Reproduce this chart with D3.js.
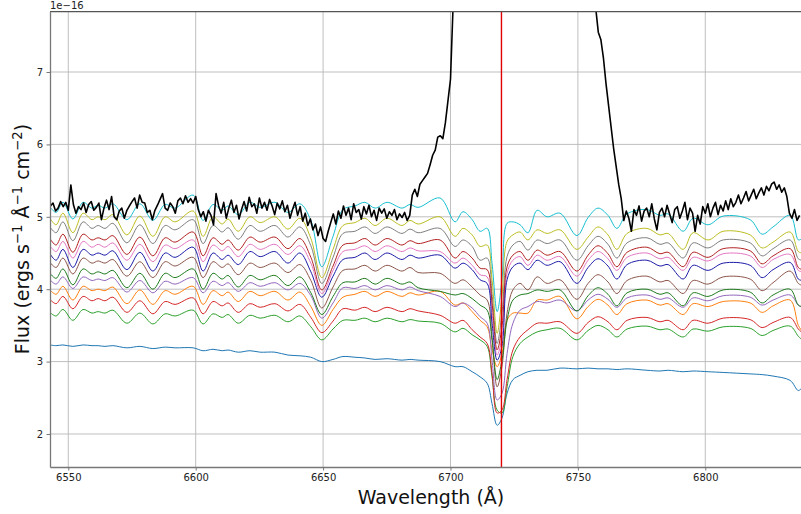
<!DOCTYPE html>
<html>
<head>
<meta charset="utf-8">
<script src="https://cdn.jsdelivr.net/npm/d3@7"></script>
<style>
body { margin: 0; background: #fff; }
text { font-family: "DejaVu Sans", sans-serif; }
</style>
</head>
<body>
<div id="vis"></div>
<script>
// wavelengths (A) of the model knots, shared by every model spectrum
const modelWave = [6542.8, 6545.2, 6547.9, 6551.8, 6555.8, 6559.3, 6561.7, 6564.4, 6567.5, 6573.0, 6578.1, 6583.2, 6588.0, 6591.9, 6599.0, 6602.9, 6606.8, 6610.4, 6612.7, 6616.7, 6621.3, 6625.3, 6631.1, 6636.2, 6640.9, 6645.2, 6649.5, 6653.9, 6657.8, 6662.5, 6666.4, 6670.4, 6675.1, 6681.0, 6684.1, 6687.3,
  6695.9, 6701.8, 6704.9, 6708.5, 6711.6, 6714.4, 6716.3, 6718.3, 6720.2, 6722.2, 6724.5, 6727.3, 6730.4, 6734.0, 6737.9, 6743.0,
  6749.6, 6754.0, 6757.9, 6761.8, 6765.3, 6769.3, 6777.1, 6782.2, 6785.4, 6791.3, 6795.2, 6801.1, 6807.0, 6817.6, 6822.3, 6826.6, 6833.3, 6836.5, 6838.0];

// model fluxes, units of 1e-16
const fluxBlue = [3.23,3.22,3.23,3.21,3.23,3.22,3.22,3.21,3.22,3.19,3.21,3.18,3.2,3.19,3.19,3.15,3.17,3.15,3.16,3.13,3.15,3.13,3.13,3.09,3.08,3.06,3.0,3.03,3.07,3.06,3.05,3.03,3.04,3.02,3.03,3.02,
  3.0,2.93,2.93,2.86,2.79,2.70,2.42,2.12,2.22,2.56,2.75,2.81,2.86,2.88,2.88,2.91,
  2.9,2.91,2.9,2.9,2.89,2.9,2.88,2.87,2.88,2.86,2.87,2.86,2.85,2.83,2.82,2.8,2.74,2.6,2.64];
const fluxOrange = [3.99,3.93,4.04,3.85,4.04,3.98,4.0,3.98,4.03,3.8,3.99,3.79,3.98,3.93,4.04,3.79,3.98,3.91,3.96,3.83,3.97,3.91,3.97,3.85,3.96,3.76,3.5,3.72,3.89,3.93,3.97,3.9,3.97,3.9,3.95,3.92,
  3.97,3.78,3.81,3.69,3.57,3.48,3.16,2.93,3.11,3.57,3.67,3.67,3.67,3.85,3.85,3.90,
  3.59,3.76,3.86,3.78,3.65,3.8,3.85,3.78,3.8,3.65,3.8,3.76,3.83,3.81,3.68,3.77,3.85,3.5,3.42];
const fluxGreen = [3.68,3.63,3.72,3.57,3.72,3.67,3.69,3.67,3.71,3.53,3.67,3.52,3.66,3.63,3.71,3.52,3.66,3.61,3.65,3.53,3.64,3.6,3.64,3.55,3.63,3.48,3.3,3.45,3.57,3.57,3.6,3.55,3.6,3.55,3.58,3.56,
  3.53,3.41,3.46,3.37,3.30,3.21,2.79,2.33,2.29,2.65,3.07,3.25,3.34,3.41,3.44,3.46,
  3.3,3.43,3.5,3.44,3.34,3.45,3.49,3.44,3.45,3.34,3.45,3.42,3.48,3.46,3.36,3.43,3.49,3.35,3.3];
const fluxRed = [3.86,3.8,3.9,3.73,3.9,3.84,3.87,3.84,3.89,3.68,3.84,3.66,3.83,3.79,3.88,3.66,3.83,3.77,3.81,3.68,3.8,3.75,3.8,3.7,3.79,3.61,3.4,3.56,3.73,3.71,3.75,3.69,3.75,3.69,3.73,3.7,
  3.64,3.53,3.57,3.44,3.34,3.25,2.84,2.29,2.33,2.75,3.16,3.34,3.44,3.53,3.53,3.55,
  3.39,3.54,3.62,3.55,3.44,3.57,3.61,3.55,3.57,3.44,3.57,3.53,3.6,3.58,3.47,3.54,3.61,3.45,3.4];
const fluxPurple = [4.13,4.07,4.17,4.01,4.17,4.12,4.14,4.12,4.16,3.96,4.12,3.95,4.11,4.07,4.16,3.95,4.11,4.05,4.09,3.97,4.09,4.04,4.09,3.99,4.08,3.91,3.6,3.81,4.02,4.01,4.05,3.99,4.05,3.99,4.03,3.98,
  3.90,3.76,3.81,3.74,3.62,3.53,3.02,2.47,2.56,3.11,3.53,3.71,3.76,3.83,3.81,3.85,
  3.7,3.85,3.93,3.86,3.75,3.88,3.92,3.86,3.88,3.75,3.88,3.84,3.91,3.89,3.78,3.85,3.92,3.78,3.75];
const fluxBrown = [4.37,4.3,4.43,4.21,4.43,4.36,4.39,4.36,4.41,4.18,4.38,4.16,4.38,4.32,4.44,4.16,4.38,4.3,4.35,4.2,4.36,4.3,4.36,4.23,4.34,4.12,3.74,4.03,4.26,4.28,4.33,4.25,4.33,4.25,4.3,4.23,
  4.22,4.08,4.13,4.03,3.92,3.85,3.34,2.65,2.93,3.67,3.99,4.08,3.99,4.17,4.08,4.13,
  3.86,4.08,4.2,4.1,3.94,4.12,4.18,4.1,4.12,3.94,4.12,4.07,4.17,4.14,3.98,4.09,4.25,4.08,4.05];
const fluxPink = [4.6,4.52,4.66,4.43,4.66,4.58,4.62,4.58,4.64,4.4,4.62,4.38,4.61,4.56,4.68,4.38,4.61,4.53,4.59,4.45,4.62,4.55,4.62,4.48,4.6,4.36,3.94,4.26,4.52,4.55,4.6,4.52,4.6,4.52,4.57,4.53,
  4.52,4.36,4.43,4.33,4.20,4.17,3.67,3.09,3.34,4.22,4.40,4.45,4.33,4.47,4.40,4.45,
  4.18,4.4,4.52,4.42,4.26,4.44,4.5,4.42,4.44,4.26,4.44,4.39,4.49,4.46,4.3,4.41,4.48,4.26,4.24];
const fluxGray = [4.86,4.78,4.93,4.67,4.93,4.84,4.88,4.84,4.91,4.64,4.89,4.63,4.88,4.82,4.96,4.63,4.88,4.79,4.85,4.69,4.88,4.8,4.88,4.72,4.86,4.6,4.08,4.44,4.77,4.8,4.86,4.77,4.86,4.77,4.83,4.78,
  4.84,4.59,4.68,4.59,4.40,4.43,3.94,3.25,3.67,4.45,4.61,4.66,4.54,4.68,4.63,4.68,
  4.4,4.6,4.73,4.62,4.43,4.64,4.71,4.62,4.64,4.43,4.64,4.57,4.68,4.64,4.46,4.56,4.68,4.42,4.4];
const fluxOlive = [4.98,4.89,5.05,4.78,5.05,4.96,5.0,4.96,5.03,4.75,5.01,4.73,5.0,4.93,5.08,4.73,5.0,4.9,4.97,4.8,5.0,4.92,5.0,4.83,4.98,4.7,4.16,4.55,4.88,4.92,4.98,4.88,4.98,4.88,4.95,4.9,
  5.0,4.73,4.84,4.75,4.59,4.61,4.13,3.39,3.9,4.66,4.75,4.79,4.68,4.82,4.77,4.82,
  4.55,4.72,4.86,4.75,4.55,4.77,4.84,4.75,4.77,4.55,4.78,4.68,4.8,4.75,4.57,4.65,4.79,4.52,4.5];
const fluxCyan = [5.14,5.06,5.2,4.97,5.2,5.12,5.16,5.12,5.18,4.96,5.18,4.95,5.17,5.12,5.3,4.95,5.17,5.09,5.15,5.03,5.2,5.13,5.2,5.06,5.18,4.95,4.31,4.73,5.1,5.15,5.2,5.12,5.2,5.12,5.17,5.13,
  5.26,4.93,5.07,4.96,4.80,4.84,4.36,3.69,4.13,4.91,4.93,4.89,4.78,5.09,5.0,5.05,
  4.74,4.99,5.12,5.02,4.84,5.04,5.1,5.02,5.04,4.8,4.98,4.89,5.01,4.96,4.76,4.86,5.02,4.68,4.7];
const fluxDarkRed = [4.7,4.61,4.76,4.51,4.76,4.68,4.71,4.68,4.74,4.48,4.72,4.46,4.71,4.65,4.79,4.46,4.71,4.62,4.68,4.54,4.72,4.65,4.72,4.56,4.7,4.44,3.99,4.32,4.61,4.64,4.7,4.61,4.7,4.61,4.67,4.63,
  4.68,4.43,4.52,4.43,4.29,4.27,3.81,3.16,3.48,4.31,4.47,4.52,4.40,4.54,4.47,4.52,
  4.25,4.47,4.6,4.49,4.31,4.51,4.58,4.49,4.51,4.31,4.51,4.44,4.56,4.53,4.35,4.46,4.56,4.3,4.27];
const fluxDarkBlue = [4.49,4.4,4.55,4.3,4.55,4.47,4.5,4.47,4.53,4.27,4.51,4.25,4.5,4.44,4.58,4.25,4.5,4.41,4.47,4.34,4.52,4.45,4.52,4.36,4.5,4.24,3.89,4.18,4.41,4.44,4.5,4.41,4.5,4.41,4.47,4.43,
  4.47,4.29,4.36,4.27,4.13,4.08,3.53,3.02,3.21,4.13,4.31,4.36,4.27,4.40,4.33,4.38,
  4.08,4.3,4.42,4.32,4.14,4.34,4.4,4.32,4.34,4.14,4.33,4.26,4.36,4.33,4.16,4.27,4.37,4.14,4.12];
const fluxDarkGreen = [4.22,4.15,4.28,4.06,4.28,4.21,4.24,4.21,4.26,4.02,4.22,4.0,4.22,4.16,4.28,4.0,4.22,4.14,4.19,4.03,4.19,4.13,4.19,4.05,4.17,3.95,3.65,3.9,4.09,4.1,4.15,4.07,4.15,4.07,4.1,4.02,
  3.97,3.92,3.94,3.87,3.78,3.71,3.30,2.75,3.02,3.57,3.85,3.92,3.94,3.99,3.97,3.99,
  3.7,3.91,4.02,3.93,3.77,3.95,4.0,3.93,3.95,3.77,3.95,3.9,3.99,3.96,3.81,3.92,4.0,3.78,3.76];

const modelFlux = [fluxBlue, fluxOrange, fluxGreen, fluxRed, fluxPurple, fluxBrown, fluxPink, fluxGray, fluxOlive, fluxCyan, fluxDarkRed, fluxDarkBlue, fluxDarkGreen];
const modelColors = ["#1f77b4", "#ff7f0e", "#2ca02c", "#d62728", "#9467bd", "#8c564b", "#e377c2", "#7f7f7f", "#bcbd22", "#17becf", "#b22222", "#1c1ca8", "#1e7b1e"];

// observed spectrum, 1 A steps from 6543 A
const obsStart = 6543;
const obsFlux = [
  5.15,5.19,5.08,5.12,5.21,5.14,5.2,5.09,5.44,5.17,
  5.05,5.14,5.1,5.19,5.06,5.17,5.21,5.09,5.13,5.19,
  4.96,5.12,5.23,5.1,5.28,5.0,4.96,5.08,5.12,4.98,
  5.09,5.15,5.21,5.26,5.12,5.3,5.2,5.19,5.06,5.09,
  4.96,5.09,5.16,5.24,5.32,5.12,5.09,5.19,5.14,5.05,
  5.22,5.26,5.18,5.29,5.2,5.25,5.19,5.28,5.1,5.0,
  5.07,4.94,5.09,5.02,4.89,5.32,5.15,5.05,5.2,4.98,
  5.12,5.23,5.06,5.16,4.97,5.1,5.21,5.08,5.27,5.14,
  5.18,5.05,5.26,5.12,5.2,5.09,5.24,5.15,5.03,5.19,
  5.11,5.22,5.07,5.16,4.98,5.1,5.2,5.02,5.14,4.94,
  5.05,4.88,4.97,4.82,4.9,4.74,4.86,4.7,4.66,4.8,
  4.92,5.04,4.9,5.08,4.98,5.15,5.02,5.12,4.96,5.18,
  5.06,5.1,4.97,5.14,5.04,5.16,5.0,5.09,4.95,5.12,
  5.05,5.11,4.98,5.07,5.02,5.1,4.96,5.04,4.99,5.06,
  4.95,5.02,5.3,5.38,5.28,5.45,5.5,5.55,5.6,5.72,
  5.85,5.92,6.1,6.12,6.08,6.3,6.6,6.9,7.9,8.6,
  9.2,9.7,10.1,10.5,10.8,11.1,11.3,11.5,11.6,11.7,
  11.8,11.8,11.9,11.9,12.0,12.0,12.0,11.9,11.9,11.8,
  11.8,11.7,11.6,11.5,11.4,11.3,11.2,11.0,10.9,10.7,
  10.6,10.4,10.3,10.1,9.9,9.8,9.6,9.5,9.3,9.2,
  9.0,8.9,8.8,8.7,8.6,8.5,8.4,8.3,8.2,8.15,
  8.1,8.05,8.0,7.95,7.88,7.55,7.45,7.2,6.85,6.55,
  6.25,5.95,5.7,5.45,5.25,4.95,5.08,4.98,4.8,5.1,
  5.02,5.15,4.94,5.08,5.12,5.0,5.18,4.97,4.82,5.06,
  5.12,5.0,5.16,5.04,4.92,5.1,5.14,4.98,5.08,5.2,
  4.96,5.12,5.05,4.8,5.02,4.9,5.14,5.05,5.18,5.0,
  5.12,5.2,5.03,5.16,5.08,5.22,5.1,5.25,5.14,5.2,
  5.3,5.18,5.26,5.35,5.22,5.3,5.38,5.25,5.33,5.4,
  5.3,5.42,5.36,5.45,5.48,5.38,5.44,5.34,5.4,5.28,
  5.05,4.98,5.1,4.95,5.02];
const obsWave = d3.range(obsFlux.length).map(i => obsStart + i);

const lineCenter = 6720;
const xTicks = [6550, 6600, 6650, 6700, 6750, 6800];
const yTicks = [2, 3, 4, 5, 6, 7];

const width = 801;
const height = 514;
const plotLeft = 50, plotRight = 801, plotTop = 11.7, plotBottom = 467;

const x = d3.scaleLinear().domain([6542.82, 6837.56]).range([plotLeft, plotRight]);
const y = d3.scaleLinear().domain([1.544, 7.833]).range([plotBottom, plotTop]);

const svg = d3.select("#vis").append("svg")
  .attr("width", width).attr("height", height)
  .style("background", "#fff");

svg.append("clipPath").attr("id", "plotclip")
  .append("rect")
  .attr("x", plotLeft).attr("y", plotTop)
  .attr("width", plotRight - plotLeft).attr("height", plotBottom - plotTop);

// grid
const grid = svg.append("g").attr("stroke", "#b8b8b8").attr("stroke-width", 0.9);
grid.selectAll(".gx").data(xTicks).join("line").attr("class", "gx")
  .attr("x1", d => x(d)).attr("x2", d => x(d))
  .attr("y1", plotTop).attr("y2", plotBottom);
grid.selectAll(".gy").data(yTicks).join("line").attr("class", "gy")
  .attr("x1", plotLeft).attr("x2", plotRight)
  .attr("y1", d => y(d)).attr("y2", d => y(d));

const plot = svg.append("g").attr("clip-path", "url(#plotclip)");

const line = d3.line()
  .x(d => x(d[0])).y(d => y(d[1]))
  .curve(d3.curveCatmullRom.alpha(0.5));

modelFlux.forEach((f, i) => {
  plot.append("path")
    .datum(d3.zip(modelWave, f))
    .attr("fill", "none")
    .attr("stroke", modelColors[i])
    .attr("stroke-width", 1)
    .attr("d", line);
});

// observed spectrum
plot.append("path")
  .datum(d3.zip(obsWave, obsFlux))
  .attr("fill", "none")
  .attr("stroke", "#000")
  .attr("stroke-width", 1.6)
  .attr("stroke-linejoin", "round")
  .attr("d", d3.line().x(d => x(d[0])).y(d => y(d[1])));

// line centre marker
plot.append("line")
  .attr("x1", x(lineCenter)).attr("x2", x(lineCenter))
  .attr("y1", plotTop).attr("y2", plotBottom)
  .attr("stroke", "#e00000").attr("stroke-width", 1.4);

// axes
const xAxis = svg.append("g").attr("transform", `translate(0,${plotBottom})`)
  .call(d3.axisBottom(x).tickValues(xTicks).tickFormat(d3.format("d")).tickSize(3.5).tickPadding(3.5).tickSizeOuter(0));
const yAxis = svg.append("g").attr("transform", `translate(${plotLeft},0)`)
  .call(d3.axisLeft(y).tickValues(yTicks).tickFormat(d3.format("d")).tickSize(3.5).tickPadding(3.5).tickSizeOuter(0));

[xAxis, yAxis].forEach(a => {
  a.select(".domain").attr("stroke", "#777").attr("stroke-width", 1.3);
  a.selectAll(".tick line").attr("stroke", "#777");
  a.selectAll(".tick text").attr("fill", "#222").style("font-size", "10px")
    .style("font-family", "'DejaVu Sans', sans-serif");
});

// top spine
svg.append("line")
  .attr("x1", plotLeft).attr("x2", plotRight)
  .attr("y1", plotTop).attr("y2", plotTop)
  .attr("stroke", "#555").attr("stroke-width", 1.2);

// offset text
svg.append("text").text("1e\u221216")
  .attr("x", plotLeft).attr("y", 8.5)
  .style("font-size", "10px").attr("fill", "#222");

// axis labels
svg.append("text").text("Wavelength (\u00c5)")
  .attr("x", 431).attr("y", 504)
  .attr("text-anchor", "middle")
  .style("font-size", "19px").attr("fill", "#111");

const yLabel = svg.append("text")
  .attr("transform", "translate(29,239) rotate(-90)")
  .attr("text-anchor", "middle")
  .style("font-size", "19px").attr("fill", "#111");
const parts = [["Flux (ergs s", 0], ["\u22121", 1], [" \u00c5", 0], ["\u22121", 1], [" cm", 0], ["\u22122", 1], [")", 0]];
let raised = false;
parts.forEach(p => {
  const t = yLabel.append("tspan").text(p[0]);
  if (p[1] && !raised) { t.attr("dy", -7.5).style("font-size", "13.3px"); raised = true; }
  else if (p[1]) { t.style("font-size", "13.3px"); }
  else if (raised) { t.attr("dy", 7.5); raised = false; }
});
</script>
</body>
</html>
